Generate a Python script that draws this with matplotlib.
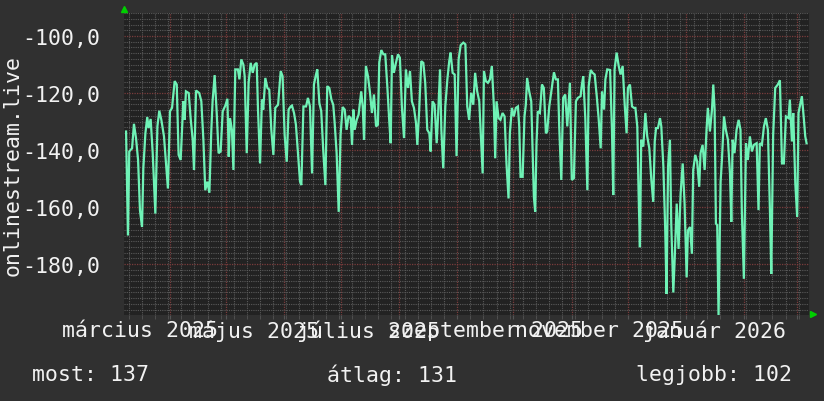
import datetime as dt
import matplotlib
matplotlib.use("Agg")
import matplotlib.pyplot as plt
import matplotlib.dates as mdates
import matplotlib.transforms as mtransforms
import numpy as np

# days since start of the window, and the measured value on that day
start = dt.datetime(2025, 3, 7, 12)
days = [
    1.1, 2.1, 2.8, 4.3, 5.3, 6.4, 7.5, 8.5, 9.6, 10.3, 11.4, 12.4, 13.1, 14.2, 15.3,
    16.7, 17.8, 18.8, 19.9, 21.3, 22.4, 23.4, 24.5, 25.6, 27.0, 28.1, 29.1, 30.2,
    31.6, 32.3, 33.0, 34.5, 35.5, 36.6, 37.3, 38.4, 40.1, 41.2, 42.3, 43.3, 44.4,
    45.5, 46.5, 47.2, 48.3, 49.4, 50.4, 51.5, 52.6, 54.0, 55.1, 55.8, 56.5, 57.5,
    58.3, 59.3,
    60.7, 61.5, 62.5, 63.6, 64.3, 65.4, 66.4, 67.5, 68.6, 69.6, 70.7, 71.4, 72.5,
    73.5, 74.2, 75.3, 76.4, 77.4, 78.5, 79.6, 80.6, 82.1, 83.5, 84.5, 85.6, 86.7,
    87.7, 88.8, 89.5, 90.6, 91.6, 92.7, 93.8, 94.5, 95.6, 97.0, 98.0, 99.1, 100.2,
    101.2, 102.3, 103.0, 104.1, 105.1, 106.2, 107.3, 108.3, 109.4, 110.5, 111.5,
    112.2, 113.3, 114.4, 115.4, 116.5, 117.6, 118.6, 119.7, 120.8, 121.5,
    122.2, 122.9, 124.0, 125.0, 126.4, 127.2, 127.9, 128.9, 130.0, 131.1, 132.1,
    133.2, 134.3, 135.3, 136.0, 137.1, 138.2, 139.2, 140.3, 141.4, 142.1, 142.8,
    143.8, 144.9, 146.0, 147.0, 148.1, 149.2, 150.2, 151.3, 152.4, 153.4, 154.5,
    155.6, 156.3, 157.3, 158.4, 159.5, 160.5, 161.6, 162.7, 163.4, 164.4, 165.5,
    166.6, 167.3, 168.4, 169.1, 170.1, 171.2, 172.3, 173.3, 174.0, 175.1, 176.2,
    177.2, 178.3, 179.4, 180.8, 181.9,
    182.9, 183.9, 185.0, 186.1, 187.1, 188.2, 189.3, 190.0, 191.1, 191.8, 192.8,
    193.9, 195.0, 196.0, 197.1, 197.8, 198.5, 199.6, 200.6, 201.7, 202.8, 203.8,
    204.9, 205.6, 206.7, 207.7, 208.8, 209.9, 210.6, 211.3, 212.4, 213.4, 214.1,
    214.8, 215.9, 217.0, 217.7, 218.4, 219.1, 219.8, 220.5, 221.6, 222.7, 223.7,
    224.8, 225.5, 226.6, 227.6, 229.1, 230.1, 231.2, 231.9, 233.0, 234.0, 235.1,
    236.2, 237.6, 238.6, 239.7, 240.8, 241.8, 243.3,
    244.0, 244.7, 245.8, 246.9, 247.6, 248.7, 249.7, 250.8, 251.9, 252.9, 254.0,
    254.7, 255.8, 256.5, 257.5, 259.0, 260.0, 260.7, 261.4, 262.5, 263.6, 264.6,
    265.7, 266.8, 267.8, 268.5, 269.6, 270.7, 271.7, 272.5, 273.5, 274.2, 274.9,
    275.6, 276.7, 277.8, 278.8, 279.9, 281.0, 282.0, 282.8, 283.5, 284.5, 285.6,
    286.3, 287.4, 288.4, 289.1, 289.9, 290.9, 291.6, 292.7, 293.4, 294.5, 295.5,
    296.6, 297.7, 298.7, 299.8, 300.5, 301.6, 302.6,
    303.3, 304.4, 305.4, 306.5, 307.2, 308.3, 309.4, 310.4, 311.1, 312.2, 313.3,
    314.0, 314.7, 315.4, 316.1, 316.8, 317.9, 318.6, 319.7, 320.7, 321.8, 322.9,
    323.6, 324.3, 325.3, 326.4, 327.5, 328.5, 329.2, 330.3, 331.4, 332.4, 333.5,
    334.6, 335.6, 337.1, 338.1, 338.8, 339.9, 341.0, 342.0, 343.1, 344.2, 344.9,
    345.9, 347.0, 348.4, 349.5, 350.6, 351.6, 352.7, 354.1, 354.8, 355.9, 356.6,
    357.7, 358.7, 359.4, 360.5, 361.2, 362.3, 363.0, 363.7,
]
values = [
    -133.5, -170.0, -140.5, -139.4, -130.8, -135.8, -143.5, -161.1, -167.0, -146.4,
    -134.1, -128.4, -132.3, -129.1, -141.1, -162.3, -131.7, -126.2, -129.4, -135.2,
    -144.7, -153.5, -126.4, -125.2, -115.8, -117.0, -141.7, -143.5, -122.9, -129.4,
    -119.4, -120.0, -128.8, -136.4, -147.0, -119.1, -120.0, -122.9, -136.4, -154.1,
    -151.1, -155.0, -133.5, -122.9, -113.7, -127.0, -141.1, -140.5, -126.4, -124.4,
    -122.0, -142.3, -128.8, -132.9, -147.0, -111.7,
    -111.7, -115.2, -108.2, -110.0, -114.1, -141.1, -116.4, -109.4, -112.9, -110.0,
    -109.4, -125.8, -144.7, -122.3, -125.8, -114.7, -118.2, -118.8, -132.9, -141.7,
    -125.2, -124.1, -112.3, -114.1, -134.7, -144.1, -125.8, -124.7, -124.4, -127.0,
    -131.1, -141.1, -151.1, -152.3, -124.7, -124.7, -121.7, -124.7, -148.2, -117.0,
    -113.5, -111.7, -123.5, -126.4, -140.5, -152.3, -117.6, -118.2, -122.3, -124.1,
    -130.0, -141.1, -161.7, -134.7, -124.9, -125.8, -132.9, -128.0, -128.8, -138.2,
    -125.8, -132.9, -129.4, -127.6, -119.4, -124.7, -136.4, -110.5, -114.1, -120.0,
    -127.0, -120.5, -131.7, -131.1, -109.4, -104.9, -106.4, -106.4, -117.6, -130.5,
    -137.6, -106.8, -112.9, -109.4, -106.4, -107.6, -125.2, -135.8, -111.7, -118.2,
    -112.3, -122.9, -125.2, -130.5, -138.2, -125.8, -108.8, -109.4, -116.4, -132.9,
    -134.1, -140.5, -122.9, -124.1, -137.6, -128.8, -111.7, -132.9, -146.4, -124.7,
    -115.2, -108.8, -105.8, -112.9, -113.5, -142.1, -108.2, -103.2, -102.3, -102.9,
    -124.7, -129.4, -119.9, -124.1, -112.9, -119.4, -122.9, -132.9, -148.2, -112.3,
    -115.8, -116.4, -115.2, -110.5, -124.7, -142.9, -122.9, -128.8, -129.4, -127.0,
    -128.2, -144.7, -157.0, -134.1, -125.2, -128.2, -125.2, -124.7, -131.7, -149.4,
    -149.4, -128.2, -124.1, -114.7, -119.4, -122.9, -140.0, -156.4, -161.7, -137.6,
    -126.4, -127.0, -117.0, -118.2, -134.1, -133.5, -124.7, -120.0, -112.7, -115.2,
    -115.2, -131.7, -150.5, -121.7, -120.5, -131.7, -116.4, -150.5, -149.9, -122.9,
    -121.7, -121.1,
    -117.0, -114.1, -128.8, -154.1, -117.6, -111.9, -112.9, -113.5, -121.1, -128.8,
    -139.4, -119.4, -125.8, -115.2, -111.7, -111.9, -132.9, -155.8, -111.7, -105.8,
    -110.5, -113.5, -110.5, -124.1, -134.1, -118.2, -117.0, -124.7, -125.2, -125.2,
    -131.7, -155.2, -174.1, -136.4, -138.8, -127.0, -135.2, -139.4, -150.5, -158.2,
    -137.0, -132.3, -132.3, -128.8, -131.7, -145.8, -168.2, -190.5, -145.8, -136.4,
    -165.8, -190.0, -178.8, -158.8, -174.7, -155.2, -144.7, -158.8, -184.7, -168.2,
    -167.0, -176.4,
    -147.0, -141.7, -144.1, -152.9, -141.1, -138.2, -147.0, -132.9, -125.2, -133.5,
    -125.8, -117.0, -125.8, -165.8, -166.4, -198.2, -151.1, -143.5, -128.2, -132.9,
    -136.4, -148.2, -165.2, -136.4, -141.1, -132.9, -129.4, -132.9, -161.1, -185.2,
    -137.6, -143.5, -135.2, -140.5, -138.2, -137.6, -161.1, -137.6, -138.2, -131.7,
    -128.8, -132.9, -161.7, -183.5, -134.7, -118.2, -117.0, -115.5, -144.7, -144.7,
    -128.2, -128.8, -122.3, -137.0, -127.0, -151.7, -163.5, -127.0, -123.5, -121.1,
    -129.4, -135.2, -137.6,
]

month_labels = ["március 2025", "május 2025", "július 2025",
                "szeptember 2025", "november 2025", "január 2026"]
month_label_dates = [dt.datetime(2025, 3, 16), dt.datetime(2025, 5, 16),
                     dt.datetime(2025, 7, 16), dt.datetime(2025, 9, 16),
                     dt.datetime(2025, 11, 16), dt.datetime(2026, 1, 16)]
y_ticks = [-100, -120, -140, -160, -180]
series_name = "onlinestream.live"
legend_items = ["most: 137", "átlag: 131", "legjobb: 102"]

times = [start + dt.timedelta(days=d) for d in days]

bg = "#303030"
plot_bg = "#222222"
fg = "#f2f2f2"
mono = "DejaVu Sans Mono"
fs = 15.5

fig = plt.figure(figsize=(8.24, 4.02), dpi=100, facecolor=bg)
ax = fig.add_axes([124 / 824, 1 - 316 / 402, 685 / 824, 302 / 402])
ax.set_facecolor(plot_bg)

ax.plot(times, values, color="#6ff2b6", lw=1.6, solid_joinstyle="miter", zorder=3)

ax.set_xlim(start, start + dt.timedelta(days=365))
ax.set_ylim(-197.9, -91.9)

# grid: red dotted month/20-unit lines, grey dotted week/2-unit lines
ax.xaxis.set_major_locator(mdates.MonthLocator())
ax.xaxis.set_minor_locator(mdates.WeekdayLocator(byweekday=mdates.MO))
ax.set_yticks(y_ticks)
ax.set_yticks(np.arange(-196, -91, 2), minor=True)
ax.grid(which="minor", color="#5a5a5a", ls=(0, (1, 1)), lw=0.8, zorder=1)
ax.grid(which="major", color="#7a3c3c", ls=(0, (1, 1)), lw=0.9, zorder=2)

ax.set_xticklabels([])
ax.tick_params(axis="x", which="both", length=3, color="#555555")
ax.tick_params(axis="y", which="both", length=0)
ax.set_yticklabels([f"{t:.1f}".replace(".", ",") for t in y_ticks],
                   family=mono, fontsize=fs, color=fg)
ax.tick_params(axis="y", pad=17)
for s in ax.spines.values():
    s.set_visible(False)

trans = mtransforms.blended_transform_factory(ax.transData, ax.transAxes)
for d, lab in zip(month_label_dates, month_labels):
    ax.text(d, -0.05, lab, transform=trans, ha="center", va="center",
            family=mono, fontsize=fs, color=fg, clip_on=False)

# rrdtool style axis arrows
ax.plot([0], [1.012], marker="^", color="#00d000", ms=5, transform=ax.transAxes, clip_on=False)
ax.plot([1.006], [0.004], marker=">", color="#00d000", ms=5, transform=ax.transAxes, clip_on=False)

fig.text(13 / 824, 1 - 165 / 402, series_name, rotation=90, ha="center", va="center",
         family=mono, fontsize=fs, color=fg)

legend_x = [32 / 824, 327 / 824, 636 / 824]
for lx, txt in zip(legend_x, legend_items):
    fig.text(lx, 1 - 375 / 402, txt, ha="left", va="center",
             family=mono, fontsize=fs, color=fg)

fig.savefig("out.png", dpi=100, facecolor=bg)
